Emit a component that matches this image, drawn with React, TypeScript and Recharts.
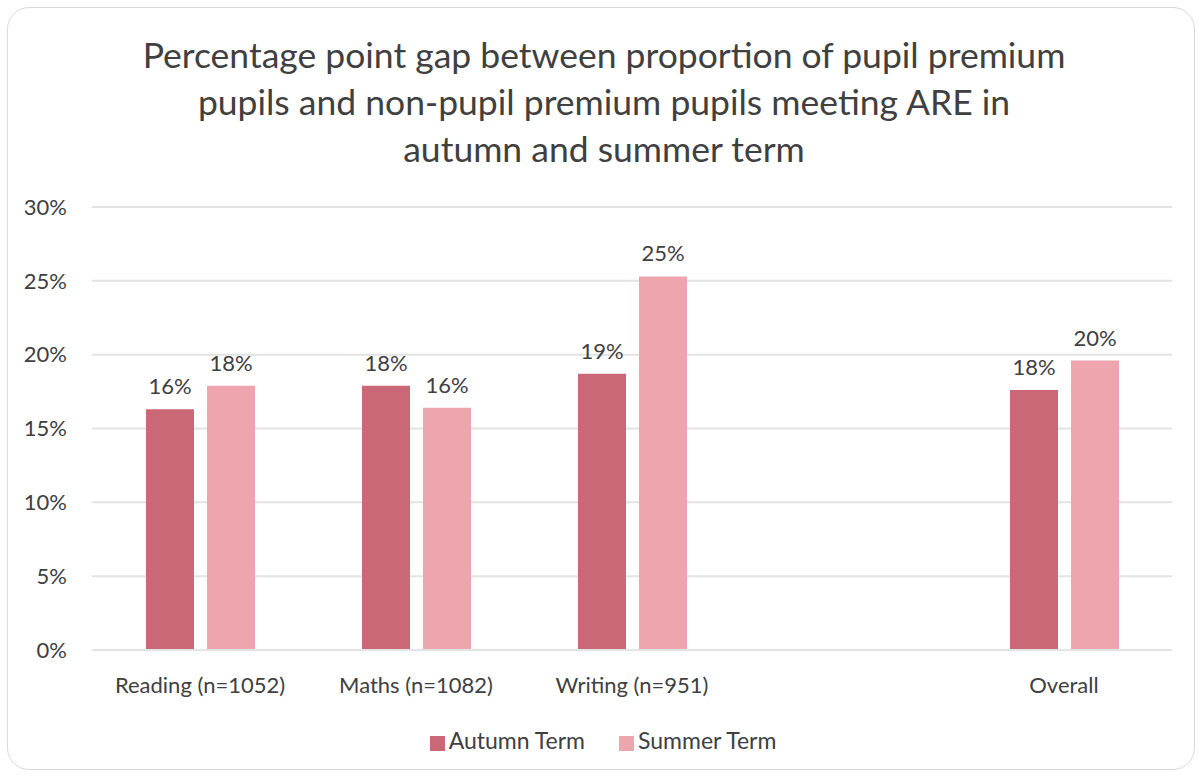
import { BarChart, Bar, XAxis, YAxis, CartesianGrid, Legend, LabelList } from "recharts";

const categories = ["Reading (n=1052)", "Maths (n=1082)", "Writing (n=951)", "", "Overall"];
const autumnTerm = [16.3, 17.9, 18.7, null, 17.6];
const summerTerm = [17.9, 16.4, 25.3, null, 19.6];
const yTicks = [0, 5, 10, 15, 20, 25, 30];

const data = categories.map((name, i) => ({
  name,
  autumn: autumnTerm[i],
  summer: summerTerm[i],
}));

const FONT = "Lato, 'Noto Sans', sans-serif";
const TEXT = "#404040";

const pct = (v: any) => (v == null ? "" : `${Math.round(Number(v))}%`);

export default function App() {
  return (
    <div style={{ position: "absolute", left: 0, top: 0, width: 1202, height: 776, background: "#fff", fontFamily: FONT }}>
      <div
        style={{
          position: "absolute",
          left: 7,
          top: 7,
          width: 1186,
          height: 761,
          border: "1px solid #d9d9d9",
          borderRadius: 22,
        }}
      />
      <div
        style={{
          position: "absolute",
          left: 0,
          top: 31,
          width: 1208,
          textAlign: "center",
          fontSize: 35.5,
          lineHeight: "47px",
          color: TEXT,
        }}
      >
        Percentage point gap between proportion of pupil premium
        <br />
        pupils and non-pupil premium pupils meeting ARE in
        <br />
        autumn and summer term
      </div>
      <div style={{ position: "absolute", left: 0, top: 0 }}>
        <BarChart
          width={1202}
          height={776}
          data={data}
          margin={{ top: 207, right: 30, bottom: 68, left: 12 }}
          barCategoryGap="25%"
          barGap={13}
        >
          <CartesianGrid vertical={false} stroke="#e3e3e3" strokeWidth={2} />
          <XAxis
            dataKey="name"
            axisLine={{ stroke: "#e3e3e3", strokeWidth: 2 }}
            tickLine={false}
            tick={{ fill: TEXT, fontSize: 22, fontFamily: FONT }}
            tickMargin={21}
            interval={0}
          />
          <YAxis
            domain={[0, 30]}
            ticks={yTicks}
            width={80}
            axisLine={false}
            tickLine={false}
            tickFormatter={(v) => `${v}%`}
            tick={{ fill: TEXT, fontSize: 22, fontFamily: FONT }}
            tickMargin={19}
          />
          <Legend
            verticalAlign="bottom"
            iconType="square"
            iconSize={15}
            wrapperStyle={{ fontSize: 23, fontFamily: FONT, color: TEXT, bottom: 22, left: 28 }}
            formatter={(value, _entry, index) => (
              <span style={{ color: TEXT, marginRight: index === 0 ? 24 : 0 }}>{value}</span>
            )}
          />
          <Bar dataKey="autumn" name="Autumn Term" fill="#cb6878" isAnimationActive={false}>
            <LabelList dataKey="autumn" position="top" offset={15} formatter={pct} fill={TEXT} fontSize={22} fontFamily={FONT} />
          </Bar>
          <Bar dataKey="summer" name="Summer Term" fill="#eea5ad" isAnimationActive={false}>
            <LabelList dataKey="summer" position="top" offset={15} formatter={pct} fill={TEXT} fontSize={22} fontFamily={FONT} />
          </Bar>
        </BarChart>
      </div>
    </div>
  );
}
